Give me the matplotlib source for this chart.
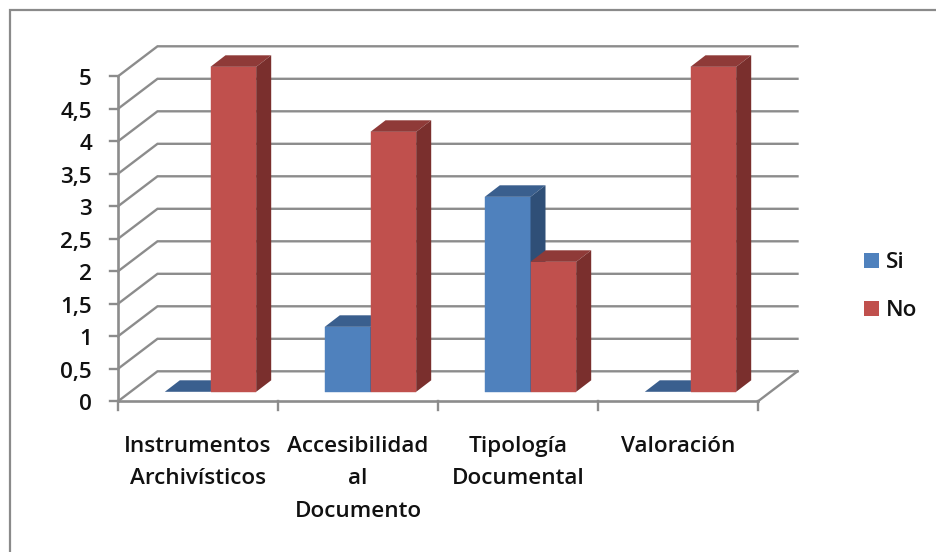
#!/usr/bin/env python3
"""Pseudo-3D clustered column chart, Si / No per archival criterion"""

import matplotlib

matplotlib.use("Agg")
import matplotlib.pyplot as plt
from matplotlib.patches import Polygon, Rectangle

categories = [
    "Instrumentos\nArchivísticos",
    "Accesibilidad\nal\nDocumento",
    "Tipología\nDocumental",
    "Valoración",
]
si_values = [0, 1, 3, 0]
no_values = [5, 4, 2, 5]
series_names = ["Si", "No"]
y_ticks = [0, 0.5, 1, 1.5, 2, 2.5, 3, 3.5, 4, 4.5, 5]
y_tick_labels = ["0", "0,5", "1", "1,5", "2", "2,5", "3", "3,5", "4", "4,5", "5"]

WIDTH, HEIGHT = 936, 552
PX_X = 160.0  # pixels per category
PX_Y = 65.0  # pixels per value unit
X0_PX, Y0_PX = 118.0, 401.3  # front left corner of the floor

GRID = "#8c8c8c"
SI = ("#4f81bd", "#3a5f8e", "#2f4f77")
NO = ("#c0504d", "#8f3a38", "#7a2f2d")
TEXT = "#111111"
FONT = "Open Sans"
FONT_SIZE = 16.2


def px(dx):
    return dx / PX_X


def py(dy):
    return dy / PX_Y


def drawBar(ax, left, value, colors):
    """Front face, top and side of one column"""
    # the column stands a little behind the front edge of the floor
    x0 = left
    x1 = left + px(45.7)
    y0 = py(9.5)
    y1 = y0 + value
    ddx, ddy = px(15), py(11.5)
    if value > 0:
        ax.add_patch(
            Rectangle((x0, y0), x1 - x0, value, fc=colors[0], ec=colors[0], lw=0.3, zorder=3)
        )
    ax.add_patch(
        Polygon(
            [(x0, y1), (x1, y1), (x1 + ddx, y1 + ddy), (x0 + ddx, y1 + ddy)],
            fc=colors[1],
            ec="none",
            zorder=3,
        )
    )
    if value > 0:
        ax.add_patch(
            Polygon(
                [(x1, y0), (x1 + ddx, y0 + ddy), (x1 + ddx, y1 + ddy), (x1, y1)],
                fc=colors[2],
                ec="none",
                zorder=3,
            )
        )


def main():
    plt.rcParams["font.family"] = FONT
    fig = plt.figure(figsize=(WIDTH / 100, HEIGHT / 100), dpi=100)
    ax = fig.add_axes([0, 0, 1, 1])
    ax.set_xlim(-0.5 - X0_PX / PX_X, -0.5 + (WIDTH - X0_PX) / PX_X)
    ax.set_ylim(-(HEIGHT - Y0_PX) / PX_Y, Y0_PX / PX_Y)
    ax.axis("off")

    # outer frame of the chart area, open to the right and bottom
    fig.add_artist(
        Rectangle(
            (9.5 / WIDTH, -0.1),
            1.2,
            1.1 - 9.5 / HEIGHT,
            transform=fig.transFigure,
            fc="none",
            ec="#8a8a8a",
            lw=1.6,
        )
    )

    left_edge, right_edge = -0.5, 3.5
    depth_x, depth_y = px(39.5), py(30)

    # back wall gridlines and the slanted ones on the side wall
    for tick, label in zip(y_ticks, y_tick_labels):
        ax.plot(
            [left_edge, left_edge + depth_x, right_edge + depth_x],
            [tick, tick + depth_y, tick + depth_y],
            color=GRID,
            lw=1.7,
            zorder=1,
            solid_joinstyle="miter",
        )
        ax.plot(
            [left_edge - px(8), left_edge], [tick, tick], color=GRID, lw=1.7, zorder=1
        )
        ax.text(
            left_edge - px(26),
            tick - py(9),
            label,
            ha="right",
            va="baseline",
            fontsize=FONT_SIZE,
            fontweight="semibold",
            color=TEXT,
        )

    # axis line, floor outline
    ax.plot([left_edge, left_edge], [0, 5], color=GRID, lw=1.9, zorder=1)
    ax.plot([left_edge, right_edge], [0, 0], color=GRID, lw=1.9, zorder=2)
    ax.plot(
        [right_edge, right_edge + depth_x],
        [0, depth_y],
        color=GRID,
        lw=1.7,
        zorder=1,
    )
    for i in range(len(categories) + 1):
        ax.plot(
            [left_edge + i, left_edge + i], [0, -py(9)], color=GRID, lw=1.7, zorder=1
        )

    for i, name in enumerate(categories):
        drawBar(ax, i + px(12.5) - px(45.7), si_values[i], SI)
        drawBar(ax, i + px(12.5), no_values[i], NO)
        ax.text(
            i,
            -py(34.5),
            name,
            ha="center",
            va="top",
            fontsize=FONT_SIZE,
            fontweight="semibold",
            color=TEXT,
            linespacing=1.72,
        )

    # legend drawn by hand next to the plot
    for name, color, ypix in zip(series_names, (SI[0], NO[0]), (260, 308)):
        fig.add_artist(
            Rectangle(
                (864 / WIDTH, 1 - (ypix + 7.5) / HEIGHT),
                15 / WIDTH,
                15 / HEIGHT,
                transform=fig.transFigure,
                fc=color,
                ec="none",
            )
        )
        fig.text(
            886 / WIDTH,
            1 - (ypix + 8) / HEIGHT,
            name,
            ha="left",
            va="baseline",
            fontsize=FONT_SIZE,
            fontweight="semibold",
            color=TEXT,
        )

    fig.savefig("out.png", dpi=100)


if __name__ == "__main__":
    main()
